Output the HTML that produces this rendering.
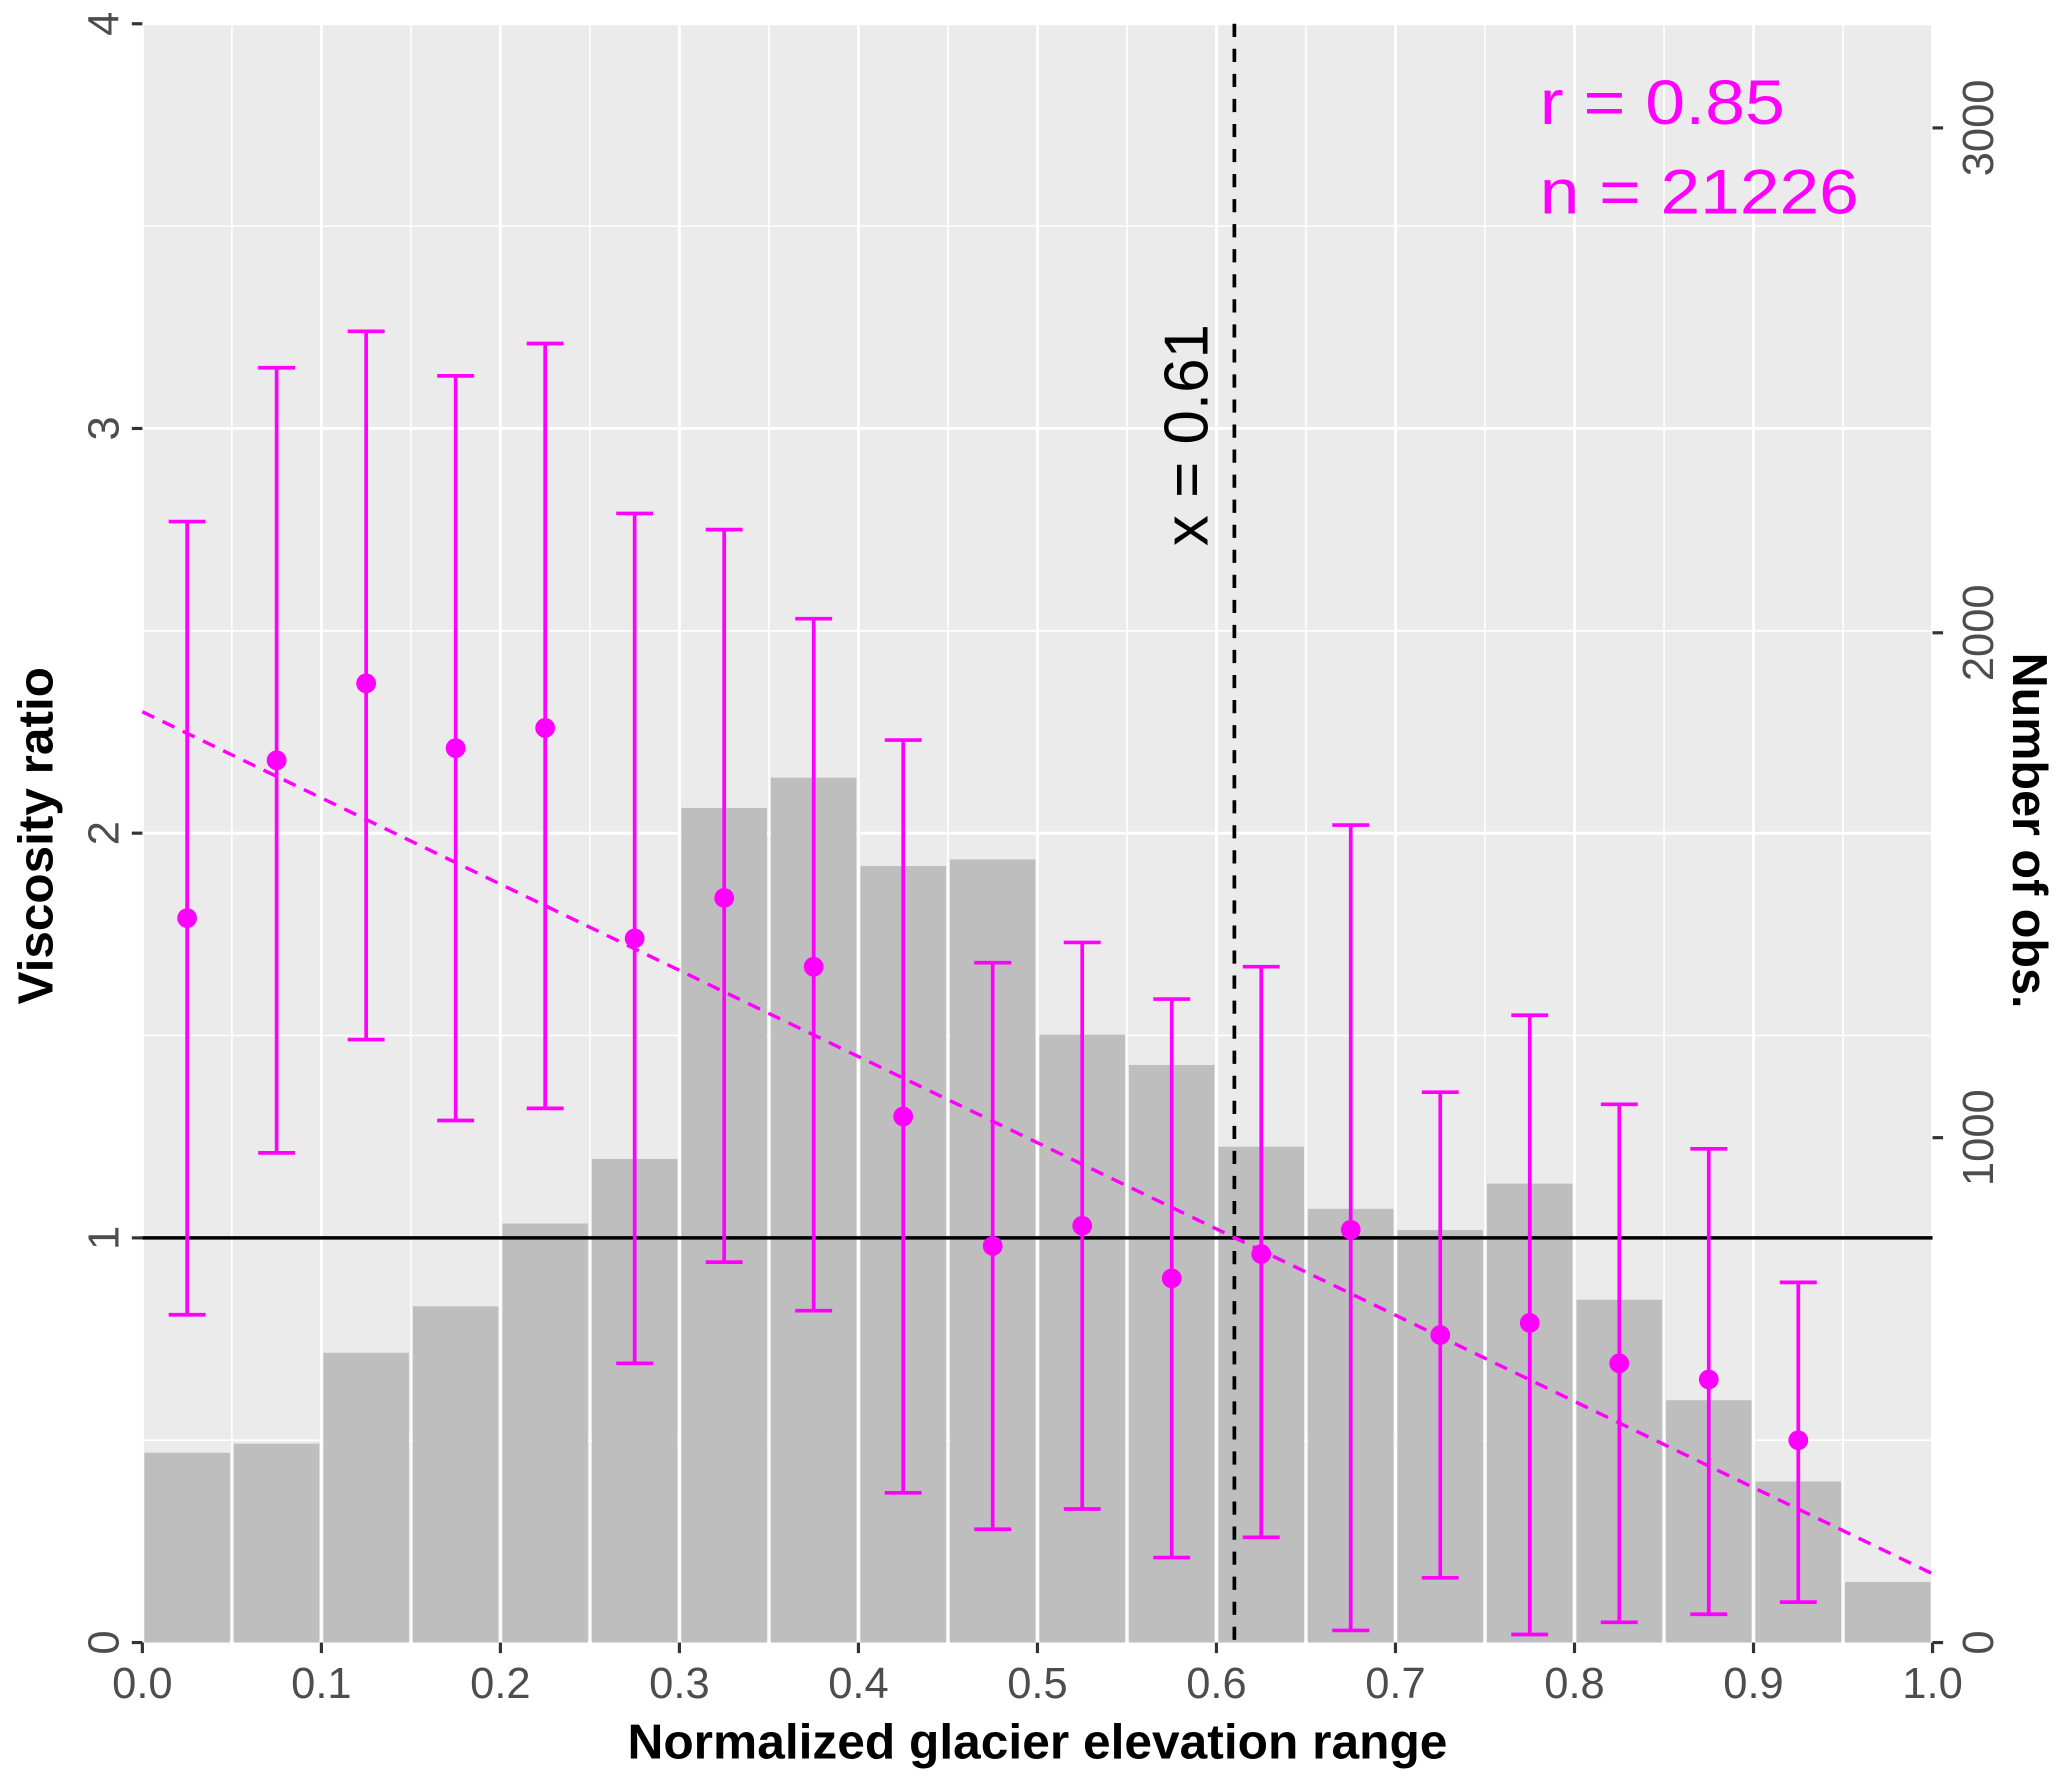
<!DOCTYPE html>
<html><head><meta charset="utf-8"><style>
html,body{margin:0;padding:0;background:#fff;}
svg{display:block;font-family:"Liberation Sans",sans-serif;}
</style></head><body>
<svg id="chart" width="2067" height="1788" viewBox="0 0 1568 1356.3" xmlns="http://www.w3.org/2000/svg">
<g id="g"></g>
</svg>
<script>
const binCenters=[0.025,0.075,0.125,0.175,0.225,0.275,0.325,0.375,0.425,0.475,0.525,0.575,0.625,0.675,0.725,0.775,0.825,0.875,0.925,0.975];
const counts=[376,394,574,666,830,958,1653,1713,1538,1551,1204,1144,982,859,817,909,679,480,319,120];
const pointX=[0.025,0.075,0.125,0.175,0.225,0.275,0.325,0.375,0.425,0.475,0.525,0.575,0.625,0.675,0.725,0.775,0.825,0.875,0.925];
const means=[1.79,2.18,2.37,2.21,2.26,1.74,1.84,1.67,1.30,0.98,1.03,0.90,0.96,1.02,0.76,0.79,0.69,0.65,0.50];
const upper=[2.77,3.15,3.24,3.13,3.21,2.79,2.75,2.53,2.23,1.68,1.73,1.59,1.67,2.02,1.36,1.55,1.33,1.22,0.89];
const lower=[0.81,1.21,1.49,1.29,1.32,0.69,0.94,0.82,0.37,0.28,0.33,0.21,0.26,0.03,0.16,0.02,0.05,0.07,0.10];
const trend=[2.30,0.17];
const xTicks=["0.0","0.1","0.2","0.3","0.4","0.5","0.6","0.7","0.8","0.9","1.0"];
const yTicks=["0","1","2","3","4"];
const y2Ticks=["0","1000","2000","3000"];
const vline=0.61;

const L=108,R=1466,T=18,B=1246;
const X=v=>L+v*(R-L);
const Y=v=>B-v*(B-T)/4;
const Y2=v=>B-v*0.383;
const NS="http://www.w3.org/2000/svg";
const g=document.getElementById('g');
function el(tag,attrs,parent){const e=document.createElementNS(NS,tag);for(const k in attrs)e.setAttribute(k,attrs[k]);(parent||g).appendChild(e);return e;}

let bg=el('rect',{x:L,y:T,width:R-L,height:B-T,fill:'#ebebeb'});


for(let i=0;i<=20;i++){const v=i/20;let l=el('line',{x1:X(v),x2:X(v),y1:T,y2:B,stroke:'#fff','stroke-width':i%2?1.2:2.2});

}
for(let i=0;i<=8;i++){const v=i/2;let l=el('line',{x1:L,x2:R,y1:Y(v),y2:Y(v),stroke:'#fff','stroke-width':i%2?1.2:2.2});

}
counts.forEach((c,i)=>{const w=0.05*(R-L);let b=el('rect',{x:X(binCenters[i])-w/2+1.5,y:Y2(c),width:w-3,height:B-Y2(c),fill:'#bebebe'});

});
let h=el('line',{x1:L,x2:R,y1:Y(1),y2:Y(1),stroke:'#000','stroke-width':2.6});


let vl=el('line',{x1:X(vline),x2:X(vline),y1:T,y2:B,stroke:'#000','stroke-width':2.8,'stroke-dasharray':'10,9'});


let tr=el('line',{x1:X(0),y1:Y(trend[0]),x2:X(1),y2:Y(trend[1]),stroke:'#ff00ff','stroke-width':2.6,'stroke-dasharray':'10,7'});


pointX.forEach((x,i)=>{const cx=X(x);
let e1=el('path',{d:`M${cx-14},${Y(upper[i])}H${cx+14}M${cx},${Y(upper[i])}V${Y(lower[i])}M${cx-14},${Y(lower[i])}H${cx+14}`,stroke:'#ff00ff','stroke-width':2.8,fill:'none'});


let p=el('circle',{cx:cx,cy:Y(means[i]),r:7.5,fill:'#ff00ff'});

});
xTicks.forEach((t,i)=>{const x=X(i/10);el('line',{x1:x,x2:x,y1:B,y2:B+8,stroke:'#333','stroke-width':2.4});
let tx=el('text',{x:x,y:B+42,'text-anchor':'middle','font-size':33,fill:'#4d4d4d'});tx.textContent=t;

});
yTicks.forEach((t,i)=>{const y=Y(i);el('line',{x1:L-8,x2:L,y1:y,y2:y,stroke:'#333','stroke-width':2.4});
let tx=el('text',{x:0,y:0,transform:`translate(90,${y}) rotate(-90)`,'text-anchor':'middle','font-size':33,fill:'#4d4d4d'});tx.textContent=t;

});
y2Ticks.forEach((t,i)=>{const y=Y2(i*1000);el('line',{x1:R,x2:R+8,y1:y,y2:y,stroke:'#333','stroke-width':2.4});
let tx=el('text',{x:0,y:0,transform:`translate(1512,${y}) rotate(-90)`,'text-anchor':'middle','font-size':33,fill:'#4d4d4d'});tx.textContent=t;

});
let xt=el('text',{x:(L+R)/2,y:1334,'text-anchor':'middle','font-size':37,'font-weight':'bold',fill:'#000',textLength:622,lengthAdjust:'spacingAndGlyphs'});xt.textContent='Normalized glacier elevation range';


let yt=el('text',{x:0,y:0,transform:`translate(40,${(T+B)/2+2}) rotate(-90)`,'text-anchor':'middle','font-size':37,'font-weight':'bold',fill:'#000',textLength:256,lengthAdjust:'spacingAndGlyphs'});yt.textContent='Viscosity ratio';


let y2t=el('text',{x:0,y:0,transform:`translate(1527,${(T+B)/2-2}) rotate(90)`,'text-anchor':'middle','font-size':37,'font-weight':'bold',fill:'#000',textLength:270,lengthAdjust:'spacingAndGlyphs'});y2t.textContent='Number of obs.';


let a=el('text',{x:0,y:0,transform:`translate(916,330) rotate(-90)`,'text-anchor':'middle','font-size':47,fill:'#000'});a.textContent='x = 0.61';


let r=el('text',{x:1168,y:94,'font-size':48,fill:'#ff00ff',textLength:186,lengthAdjust:'spacingAndGlyphs'});r.textContent='r = 0.85';


let n=el('text',{x:1168,y:162,'font-size':48,fill:'#ff00ff',textLength:242,lengthAdjust:'spacingAndGlyphs'});n.textContent='n = 21226';


</script>
</body></html>
